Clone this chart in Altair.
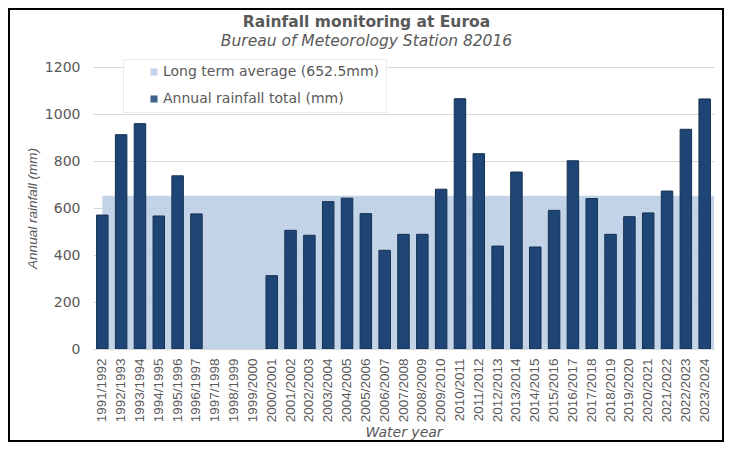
import altair as alt
import pandas as pd

years = ["1991/1992", "1992/1993", "1993/1994", "1994/1995", "1995/1996", "1996/1997",
         "1997/1998", "1998/1999", "1999/2000", "2000/2001", "2001/2002", "2002/2003",
         "2003/2004", "2004/2005", "2005/2006", "2006/2007", "2007/2008", "2008/2009",
         "2009/2010", "2010/2011", "2011/2012", "2012/2013", "2013/2014", "2014/2015",
         "2015/2016", "2016/2017", "2017/2018", "2018/2019", "2019/2020", "2020/2021",
         "2021/2022", "2022/2023", "2023/2024"]
rainfall = [570, 912, 959, 566, 737, 575,
            None, None, None, 312, 505, 484,
            627, 642, 576, 420, 488, 488,
            680, 1065, 831, 438, 753, 434,
            590, 801, 640, 488, 563, 579,
            672, 935, 1064]
long_term_average = 652.5

series_avg = "Long term average (652.5mm)"
series_total = "Annual rainfall total (mm)"
y_ticks = [0, 200, 400, 600, 800, 1000, 1200]

bars_df = pd.DataFrame({"year": years, "rain": rainfall, "series": series_total})
avg_df = pd.DataFrame({"year": [years[0]], "avg": [long_term_average], "zero": [0], "series": [series_avg]})

GREY = "#595959"
x_enc = alt.X("year:N", sort=years,
              scale=alt.Scale(domain=years, paddingInner=0.39, paddingOuter=0.19),
              axis=alt.Axis(title="Water year", titleFontStyle="italic", titleFontWeight="normal",
                            titleFontSize=14, titleColor=GREY, titlePadding=4,
                            labelAngle=270, labelFontSize=13.5, labelColor=GREY, labelPadding=9,
                            labelFont="Liberation Sans",
                            ticks=False, domainColor="#d9d9d9", labelOverlap=False))
y_scale = alt.Scale(domain=[0, 1200], nice=False)
y_axis = alt.Axis(title="Annual rainfall (mm)", titleFontStyle="italic", titleFontWeight="normal",
                  titleFontSize=13.5, titleColor=GREY, titlePadding=5, format="d",
                  titleFont="Liberation Sans",
                  values=y_ticks, labelFontSize=14, labelColor=GREY, labelPadding=13,
                  ticks=False, domain=False, grid=True, gridColor="#d9d9d9")

color = alt.Color("series:N",
                  scale=alt.Scale(domain=[series_avg, series_total], range=["#b9cde5", "#1f4577"]),
                  legend=alt.Legend(title=None, orient="none", legendX=30, legendY=-8,
                                    symbolType="square", symbolSize=50, symbolStrokeWidth=0,
                                    symbolOffset=18, labelOffset=2, labelFontSize=14,
                                    labelColor=GREY, rowPadding=13, padding=6, labelLimit=400,
                                    labelExpr="datum.label + '\u00a0\u00a0'",
                                    fillColor="white", strokeColor="#ececE4"))

band = alt.Chart(avg_df).mark_rect(opacity=0.85).encode(
    x=alt.X("year:N", sort=years, bandPosition=0.5),
    x2=alt.value("width"),
    y=alt.Y("avg:Q", scale=y_scale, axis=y_axis),
    y2="zero:Q",
    color=color,
)

bars = alt.Chart(bars_df).mark_bar(stroke="#14304f", strokeWidth=1).encode(
    x=x_enc,
    y=alt.Y("rain:Q", scale=y_scale, axis=y_axis),
    color=color,
)

frame = alt.Chart(alt.Data(values=[{}])).mark_rect(fill=None, stroke="black", strokeWidth=2).encode(
    x=alt.value(-84), x2=alt.value(630), y=alt.value(-58), y2=alt.value(374)
)

chart = alt.layer(band, bars, frame).properties(
    width=621, height=282,
    title=alt.TitleParams(text="Rainfall monitoring at Euroa",
                          subtitle="Bureau of Meteorology Station 82016",
                          fontSize=15.5, fontWeight="bold", color=GREY,
                          subtitleFontSize=15.5, subtitleFontStyle="italic", subtitleColor=GREY,
                          subtitlePadding=3, anchor="middle", dx=-37, dy=43, offset=2),
    autosize=alt.AutoSizeParams(type="none"),
    padding={"left": 85, "top": 59, "right": 10, "bottom": 93},
    background="white",
).configure(font="DejaVu Sans").configure_view(stroke=None)

chart.save("out.html", embed_options={"renderer": "svg", "actions": False})
